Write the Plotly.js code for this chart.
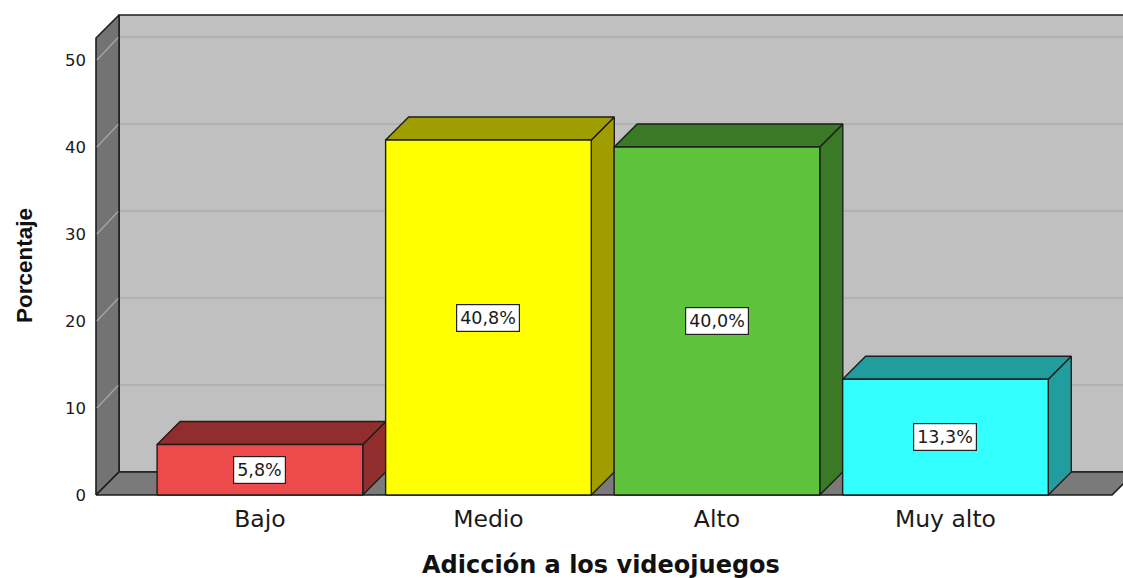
<!DOCTYPE html>
<html><head><meta charset="utf-8">
<script src="https://cdn.plot.ly/plotly-3.0.1.min.js"></script>
<style>html,body{margin:0;padding:0;background:#fff}#chart{width:1123px;height:578px}</style>
</head><body><div id="chart"></div>
<script>
// ---- data ----
const categories = ['Bajo', 'Medio', 'Alto', 'Muy alto'];
const percentages = [5.8, 40.8, 40.0, 13.3];
const valueLabels = ['5,8%', '40,8%', '40,0%', '13,3%'];
const yTickValues = [0, 10, 20, 30, 40, 50];
const xAxisTitle = 'Adicción a los videojuegos';
const yAxisTitle = 'Porcentaje';

// ---- styles ----
const frontColors = ['#ED4B4B', '#FFFF00', '#5EC23A', '#33FFFF'];
const shadeColors = ['#922D2D', '#A09D00', '#3A7925', '#219D9D'];
const EDGE = '#1e1e1e';

// ---- 3D geometry (data units) ----
const X_LEFT = -0.7174, X_FLOOR = 3.729;
const X_MIN = -0.7262, X_MAX = 3.777;
const Y_MIN = -0.23, Y_MAX = 55.40;
const DX = 0.1007, DY = 2.644;
const Y_WALL = 55.17;
const HALF = 0.45;

const traces = [];
function poly(xs, ys, fill, lineColor, lineWidth) {
  traces.push({type: 'scatter', mode: 'lines', x: xs.concat([xs[0]]), y: ys.concat([ys[0]]),
    fill: 'toself', fillcolor: fill, line: {color: lineColor, width: lineWidth},
    hoverinfo: 'skip', showlegend: false});
}
function seg(xs, ys, color, w) {
  traces.push({type: 'scatter', mode: 'lines', x: xs, y: ys, line: {color: color, width: w},
    hoverinfo: 'skip', showlegend: false});
}

// back wall
poly([X_LEFT + DX, X_FLOOR + DX + 0.3, X_FLOOR + DX + 0.3, X_LEFT + DX],
     [DY, DY, Y_WALL, Y_WALL], '#C0C0C0', EDGE, 1.6);
// left wall
poly([X_LEFT, X_LEFT, X_LEFT + DX, X_LEFT + DX],
     [0, Y_WALL - DY, Y_WALL, DY], '#737373', EDGE, 1.6);
// floor
poly([X_LEFT, X_FLOOR, X_FLOOR + DX, X_LEFT + DX],
     [0, 0, DY, DY], '#7A7A7A', EDGE, 1.6);
// grid lines
yTickValues.forEach(function (k) {
  if (k === 0) return;
  seg([X_LEFT + DX + 0.004, X_FLOOR + DX + 0.3], [k + DY, k + DY], '#AEAEAE', 1.5);
  seg([X_LEFT + 0.004, X_LEFT + DX - 0.004], [k, k + DY - 0.05], '#A3A3A3', 1.5);
});

// bars
percentages.forEach(function (v, i) {
  const x0 = i - HALF, x1 = i + HALF;
  poly([x1, x1 + DX, x1 + DX, x1], [0, DY, v + DY, v], shadeColors[i], EDGE, 1.4);
  poly([x0, x1, x1 + DX, x0 + DX], [v, v, v + DY, v + DY], shadeColors[i], EDGE, 1.4);
  poly([x0, x1, x1, x0], [0, 0, v, v], frontColors[i], EDGE, 1.4);
});

const annotations = percentages.map(function (v, i) {
  return {x: i, y: v / 2, xref: 'x', yref: 'y', text: valueLabels[i], showarrow: false,
    bgcolor: '#ffffff', bordercolor: '#222', borderwidth: 1.2, borderpad: 3,
    font: {family: 'DejaVu Sans', size: 17.5, color: '#1a1a1a'}};
});
annotations.push({x: 601, y: 565, xref: 'paper', yref: 'paper', text: '<b>' + xAxisTitle + '</b>',
  showarrow: false, font: {family: 'DejaVu Sans', size: 24, color: '#111'}});
annotations.push({x: 24, y: 266, xref: 'paper', yref: 'paper', text: '<b>' + yAxisTitle + '</b>',
  textangle: -90, showarrow: false, font: {family: 'Liberation Sans', size: 22.5, color: '#111'}});

// convert pixel positions of titles to paper coords
const M = {l: 94, r: 0, t: 13, b: 81};
const PW = 1123 - M.l - M.r, PH = 578 - M.t - M.b;
annotations.slice(-2).forEach(function (a) {
  a.x = (a.x - M.l) / PW;
  a.y = (578 - M.b - a.y) / PH;
  a.xanchor = 'center'; a.yanchor = 'middle';
});

const layout = {
  width: 1123, height: 578,
  margin: M,
  paper_bgcolor: '#ffffff', plot_bgcolor: '#ffffff',
  showlegend: false,
  xaxis: {range: [X_MIN, X_MAX], tickvals: categories.map(function (c, i) { return i; }),
    ticktext: categories, showgrid: false, zeroline: false, showline: false, ticks: '',
    ticklabelstandoff: 5, tickfont: {family: 'DejaVu Sans', size: 23.5, color: '#1a1a1a'},
    fixedrange: true},
  yaxis: {range: [Y_MIN, Y_MAX], tickvals: yTickValues, showgrid: false, zeroline: false,
    showline: false, ticks: '', ticklabelstandoff: 7,
    tickfont: {family: 'DejaVu Sans', size: 16.5, color: '#1a1a1a'}, fixedrange: true},
  annotations: annotations
};

Plotly.newPlot('chart', traces, layout, {displayModeBar: false, staticPlot: true});
</script>
</body></html>
